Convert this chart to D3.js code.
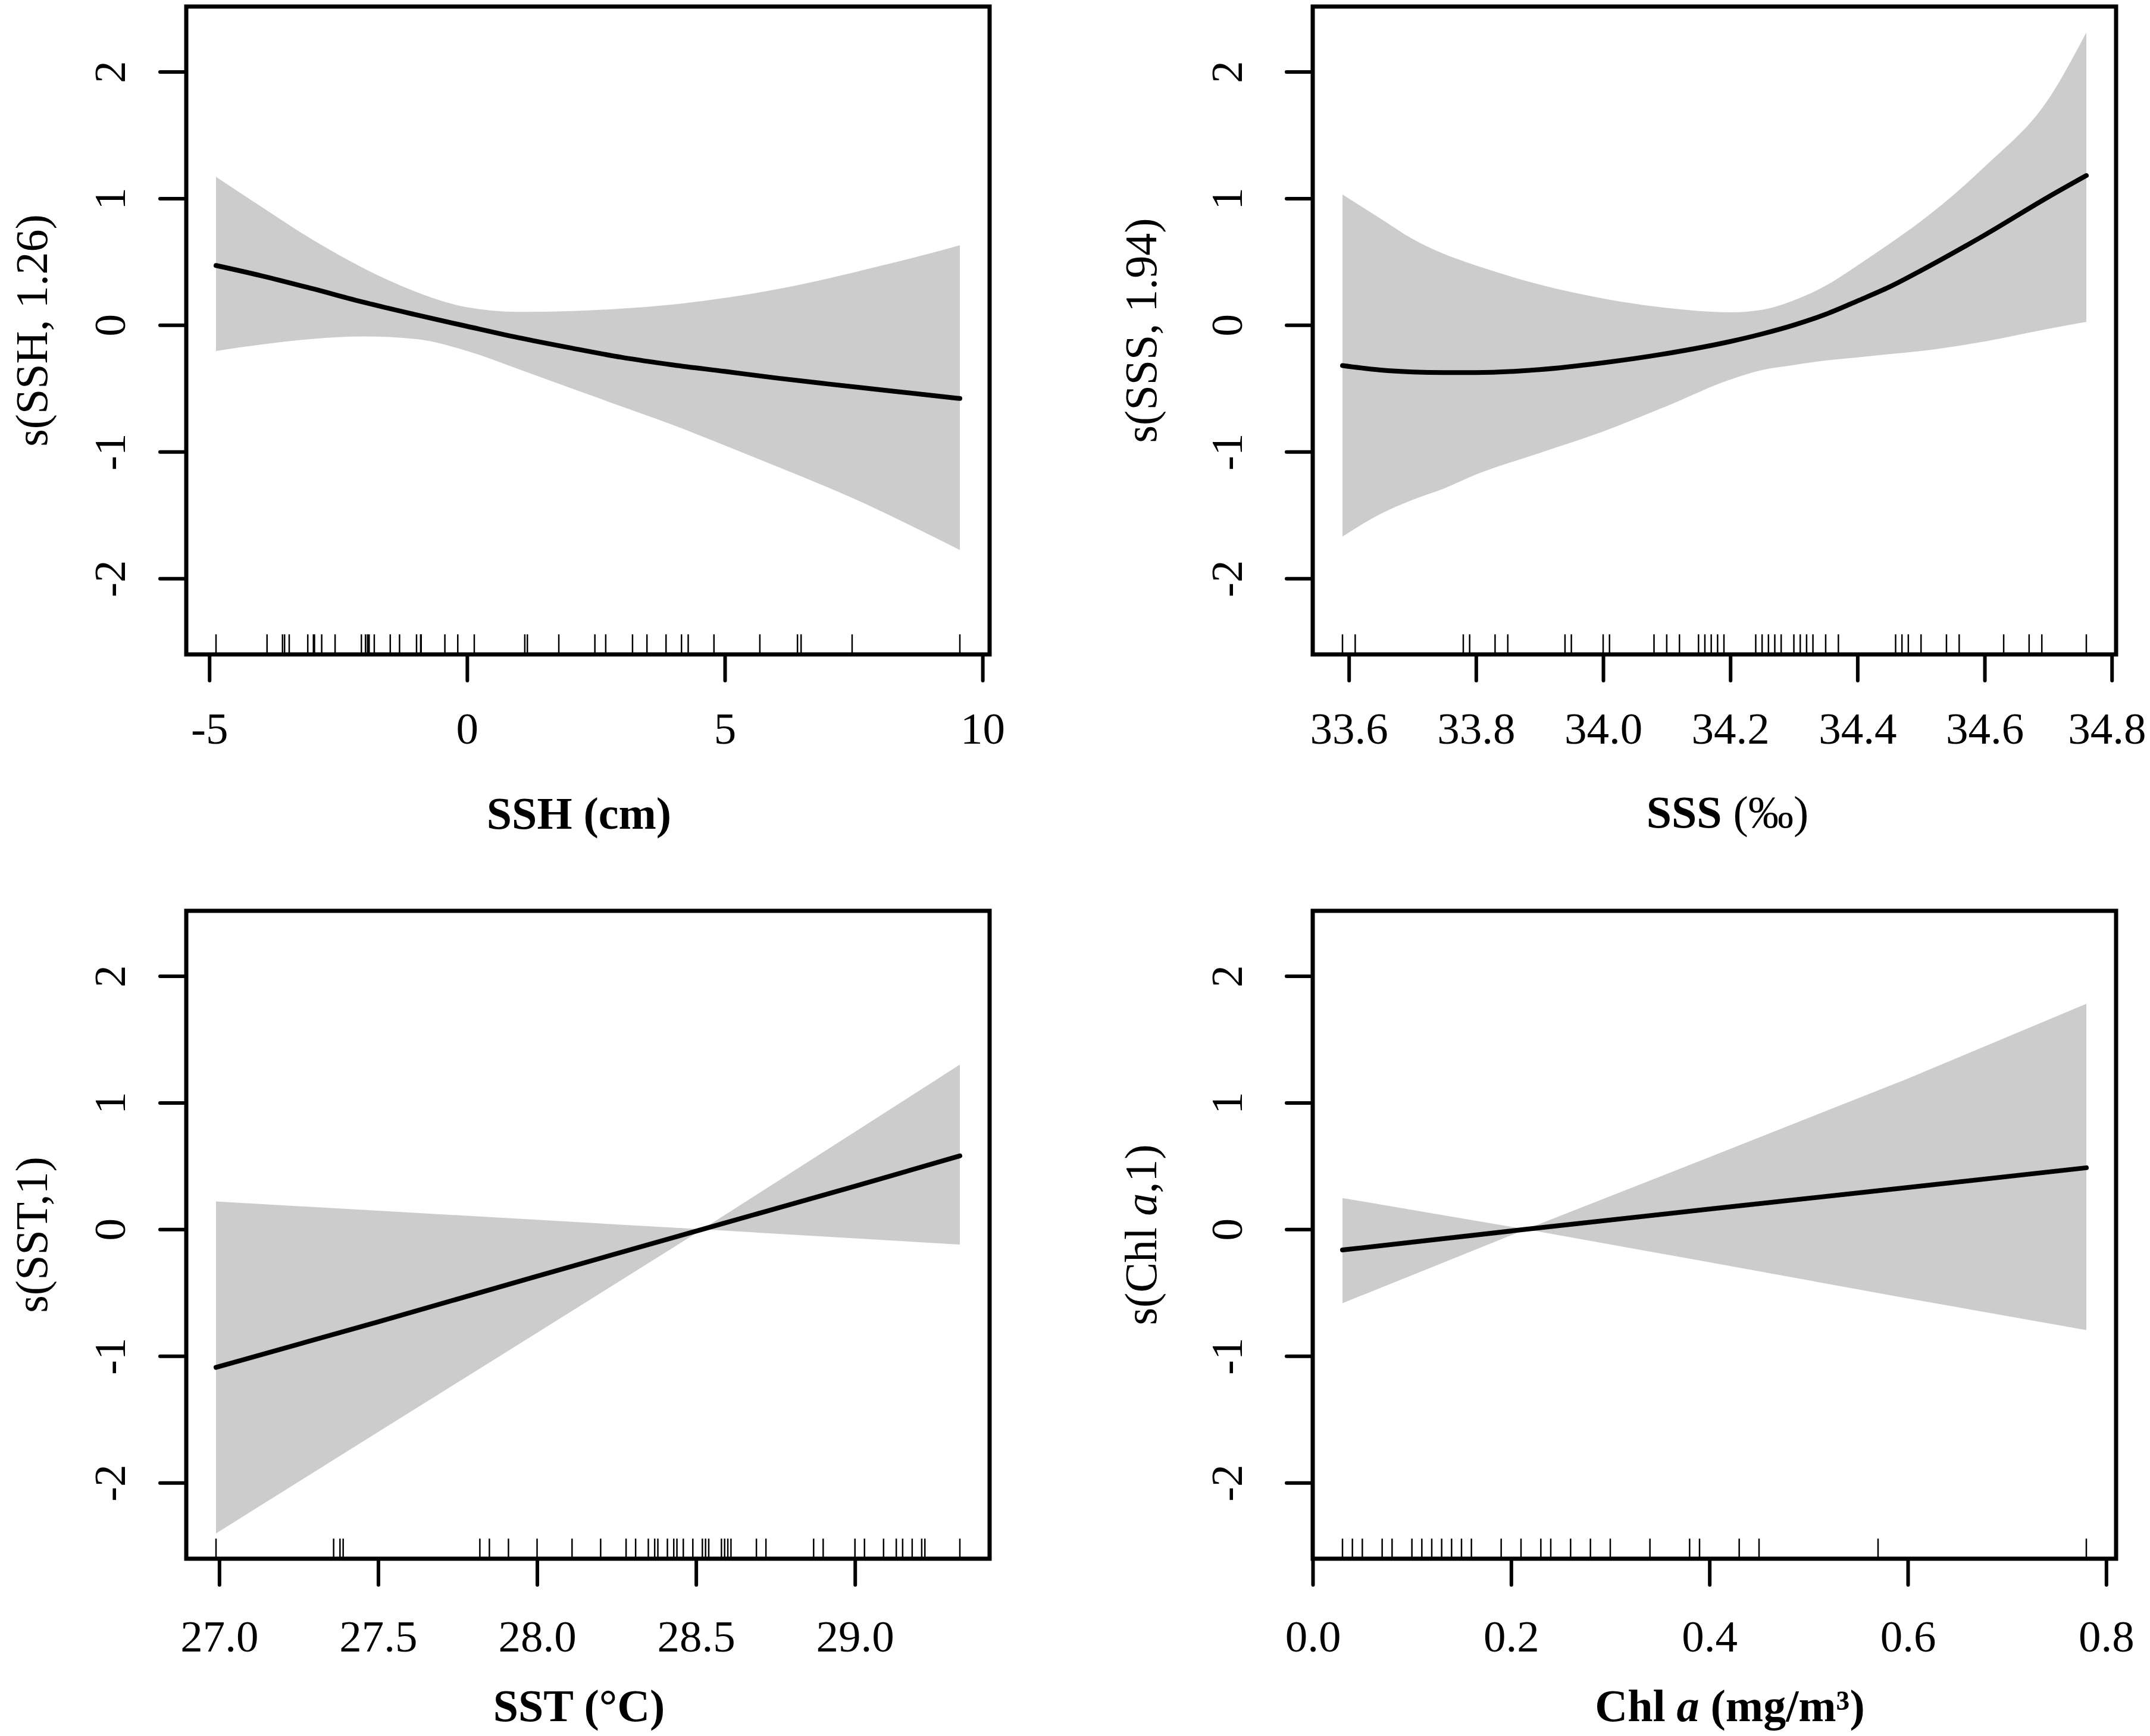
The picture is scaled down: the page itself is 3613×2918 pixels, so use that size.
<!DOCTYPE html>
<html>
<head>
<meta charset="utf-8">
<script src="https://cdn.jsdelivr.net/npm/d3@7"></script>
<style>
  body { margin: 0; background: #fff; }
  svg { display: block; }
  text { font-family: "Liberation Serif", "Times New Roman", serif; fill: #000; }
</style>
</head>
<body>
<svg id="chart" width="3613" height="2918"></svg>
<script>
// shared y axis
const yTicks = [-2, -1, 0, 1, 2];
const yDomain = [-2.6, 2.514];

// SSH panel
const sshTicks = [-5, 0, 5, 10];
const sshX     = [-4.87, -4, -3, -2, -1, 0, 1, 2, 3, 4, 5, 6, 7, 8, 9, 9.56];
const sshFit   = [0.47, 0.39, 0.287, 0.179, 0.082, -0.01, -0.10, -0.18, -0.255, -0.315, -0.366, -0.418, -0.465, -0.51, -0.555, -0.58];
const sshUpper = [1.17, 0.936, 0.674, 0.447, 0.264, 0.14, 0.104, 0.11, 0.13, 0.163, 0.214, 0.282, 0.367, 0.465, 0.567, 0.63];
const sshLower = [-0.205, -0.155, -0.11, -0.09, -0.11, -0.205, -0.348, -0.496, -0.643, -0.79, -0.951, -1.115, -1.282, -1.463, -1.662, -1.776];
const sshRug   = [-4.87, -3.88, -3.58, -3.54, -3.45, -3.09, -2.98, -2.96, -2.82, -2.56, -2.05, -1.97, -1.93, -1.90, -1.80,
                  -1.49, -1.31, -0.98, -0.90, -0.89, -0.43, -0.18, 0.14, 1.12, 1.17, 1.78, 2.48, 2.69, 3.21, 3.49, 3.86,
                  4.16, 4.29, 4.79, 5.68, 6.41, 6.48, 7.47, 9.56];

// SSS panel
const sssTicks = [33.6, 33.8, 34.0, 34.2, 34.4, 34.6, 34.8];
const sssX     = [33.59, 33.65, 33.70, 33.75, 33.80, 33.90, 34.00, 34.10, 34.20, 34.25, 34.30, 34.35, 34.40, 34.45, 34.50, 34.60, 34.70, 34.76];
const sssFit   = [-0.32, -0.355, -0.37, -0.375, -0.375, -0.352, -0.298, -0.225, -0.13, -0.07, 0.0, 0.085, 0.19, 0.30, 0.43, 0.71, 1.01, 1.18];
const sssUpper = [1.03, 0.84, 0.68, 0.56, 0.47, 0.32, 0.21, 0.135, 0.10, 0.12, 0.195, 0.31, 0.47, 0.64, 0.82, 1.25, 1.78, 2.31];
const sssLower = [-1.67, -1.49, -1.38, -1.29, -1.18, -1.01, -0.84, -0.64, -0.43, -0.355, -0.315, -0.28, -0.255, -0.23, -0.205, -0.13, -0.03, 0.025];
const sssRug   = [33.59, 33.61, 33.78, 33.79, 33.83, 33.85, 33.94, 33.95, 34.00, 34.01, 34.08, 34.10, 34.12, 34.15, 34.16,
                  34.17, 34.18, 34.19, 34.24, 34.25, 34.26, 34.27, 34.28, 34.30, 34.31, 34.32, 34.33, 34.35, 34.37, 34.46,
                  34.47, 34.48, 34.50, 34.54, 34.56, 34.63, 34.67, 34.69, 34.76];

// SST panel
const sstTicks = [27.0, 27.5, 28.0, 28.5, 29.0];
const sstX     = [26.99, 27.5, 28.0, 28.52, 29.0, 29.33];
const sstFit   = [-1.09, -0.73, -0.37, 0.0, 0.34, 0.58];
const sstUpper = [0.22, 0.147, 0.075, 0.0, 0.77, 1.30];
const sstLower = [-2.40, -1.60, -0.817, 0.0, -0.071, -0.12];
const sstRug   = [26.99, 27.36, 27.38, 27.39, 27.82, 27.85, 27.91, 28.00, 28.11, 28.20, 28.28, 28.31, 28.35, 28.37, 28.38,
                  28.41, 28.43, 28.44, 28.46, 28.49, 28.52, 28.53, 28.54, 28.58, 28.59, 28.60, 28.61, 28.69, 28.72, 28.87,
                  28.90, 29.00, 29.03, 29.09, 29.13, 29.15, 29.18, 29.21, 29.22, 29.33];

// Chl a panel
const chlTicks = [0.0, 0.2, 0.4, 0.6, 0.8];
const chlX     = [0.03, 0.215, 0.4, 0.6, 0.78];
const chlFit   = [-0.163, 0.0, 0.16, 0.33, 0.486];
const chlUpper = [0.247, 0.0, 0.57, 1.19, 1.78];
const chlLower = [-0.583, 0.0, -0.26, -0.545, -0.795];
const chlRug   = [0.03, 0.04, 0.05, 0.07, 0.08, 0.10, 0.11, 0.12, 0.13, 0.14, 0.15, 0.16, 0.19, 0.21, 0.23, 0.24,
                  0.26, 0.28, 0.30, 0.34, 0.38, 0.39, 0.43, 0.45, 0.57, 0.78];

const svg = d3.select("#chart");
svg.append("rect").attr("width", 3613).attr("height", 2918).attr("fill", "#fff");

const W = 1350, H = 1089;
const intFmt = d => String(d);
const decFmt = d => d.toFixed(1);

const panels = [
  { x: sshX, fit: sshFit, up: sshUpper, lo: sshLower, rug: sshRug, ticks: sshTicks, fmt: intFmt, curve: d3.curveMonotoneX,
    left: 313, top: 11, yLabOff: 129, yTitleOff: 261, xLabOff: 124, xTitleOff: 266, xTitleDx: -15,
    yTitle: [["s(SSH, 1.26)", ""]], xTitle: [["SSH (cm)", "b"]] },
  { x: sssX, fit: sssFit, up: sssUpper, lo: sssLower, rug: sssRug, ticks: sssTicks, fmt: decFmt, curve: d3.curveMonotoneX,
    left: 2206, top: 11, yLabOff: 145, yTitleOff: 290, xLabOff: 124, xTitleOff: 264, xTitleDx: 22,
    yTitle: [["s(SSS, 1.94)", ""]], xTitle: [["SSS", "b"], [" (‰)", ""]] },
  { x: sstX, fit: sstFit, up: sstUpper, lo: sstLower, rug: sstRug, ticks: sstTicks, fmt: decFmt, curve: d3.curveLinear,
    left: 313, top: 1531, yLabOff: 129, yTitleOff: 261, xLabOff: 130, xTitleOff: 246, xTitleDx: -15,
    yTitle: [["s(SST,1)", ""]], xTitle: [["SST (°C)", "b"]] },
  { x: chlX, fit: chlFit, up: chlUpper, lo: chlLower, rug: chlRug, ticks: chlTicks, fmt: decFmt, curve: d3.curveLinear,
    left: 2206, top: 1531, yLabOff: 145, yTitleOff: 290, xLabOff: 130, xTitleOff: 246, xTitleDx: 26,
    yTitle: [["s(Chl ", ""], ["a", "i"], [",1)", ""]], xTitle: [["Chl ", "b"], ["a", "bi"], [" (mg/m³)", "b"]] }
];

function addRuns(text, runs) {
  runs.forEach(([t, s]) => {
    text.append("tspan")
      .attr("font-weight", s.includes("b") ? "bold" : "normal")
      .attr("font-style", s.includes("i") ? "italic" : "normal")
      .text(t);
  });
}

panels.forEach(p => {
  const g = svg.append("g").attr("transform", `translate(${p.left},${p.top})`);

  // R style 4% padding round the data range
  const ext = d3.extent(p.rug);
  const pad = (ext[1] - ext[0]) * 0.04;
  const x = d3.scaleLinear().domain([ext[0] - pad, ext[1] + pad]).range([0, W]);
  const y = d3.scaleLinear().domain(yDomain).range([H, 0]);

  const rows = p.x.map((v, i) => ({ x: v, fit: p.fit[i], up: p.up[i], lo: p.lo[i] }));

  const area = d3.area().curve(p.curve).x(d => x(d.x)).y0(d => y(d.lo)).y1(d => y(d.up));
  const line = d3.line().curve(p.curve).x(d => x(d.x)).y(d => y(d.fit));

  g.append("path").datum(rows).attr("d", area).attr("fill", "#cccccc").attr("stroke", "none");
  g.append("path").datum(rows).attr("d", line)
    .attr("fill", "none").attr("stroke", "#000").attr("stroke-width", 8)
    .attr("stroke-linejoin", "round").attr("stroke-linecap", "round");

  // rug
  g.selectAll(".rug").data(p.rug).enter().append("line")
    .attr("class", "rug")
    .attr("x1", d => x(d)).attr("x2", d => x(d))
    .attr("y1", H).attr("y2", H - H * 0.031)
    .attr("stroke", "#000").attr("stroke-width", 2.5);

  // box
  g.append("rect").attr("width", W).attr("height", H)
    .attr("fill", "none").attr("stroke", "#000").attr("stroke-width", 7);

  // x axis
  const xa = g.append("g").attr("transform", `translate(0,${H})`)
    .call(d3.axisBottom(x).tickValues(p.ticks).tickFormat(p.fmt).tickSize(44).tickSizeOuter(0));
  xa.select(".domain").remove();
  xa.selectAll(".tick line").attr("stroke", "#000").attr("stroke-width", 6).attr("stroke-linecap", "round");
  xa.selectAll(".tick text").attr("y", p.xLabOff).attr("dy", "0.35em")
    .attr("font-size", 75).attr("font-family", null);
  // keep a label that would run past the page edge inside it
  xa.selectAll(".tick text").each(function (d) {
    const right = p.left + x(d) + this.getComputedTextLength() / 2;
    if (right > 3606) d3.select(this).attr("dx", 3606 - right);
  });

  // y axis
  const ya = g.append("g")
    .call(d3.axisLeft(y).tickValues(yTicks).tickFormat(intFmt).tickSize(44).tickSizeOuter(0));
  ya.select(".domain").remove();
  ya.selectAll(".tick line").attr("stroke", "#000").attr("stroke-width", 6).attr("stroke-linecap", "round");
  ya.selectAll(".tick text")
    .attr("transform", "rotate(-90)")
    .attr("x", 0).attr("y", -p.yLabOff).attr("dy", "0.35em")
    .attr("text-anchor", "middle").attr("font-size", 75).attr("font-family", null);

  // titles
  const xt = g.append("text")
    .attr("x", W / 2 + p.xTitleDx).attr("y", H + p.xTitleOff).attr("dy", "0.35em")
    .attr("text-anchor", "middle").attr("font-size", 76);
  addRuns(xt, p.xTitle);

  const yt = g.append("text")
    .attr("transform", `translate(${-p.yTitleOff},${H / 2}) rotate(-90)`)
    .attr("dy", "0.35em")
    .attr("text-anchor", "middle").attr("font-size", 76);
  addRuns(yt, p.yTitle);
});
</script>
</body>
</html>
